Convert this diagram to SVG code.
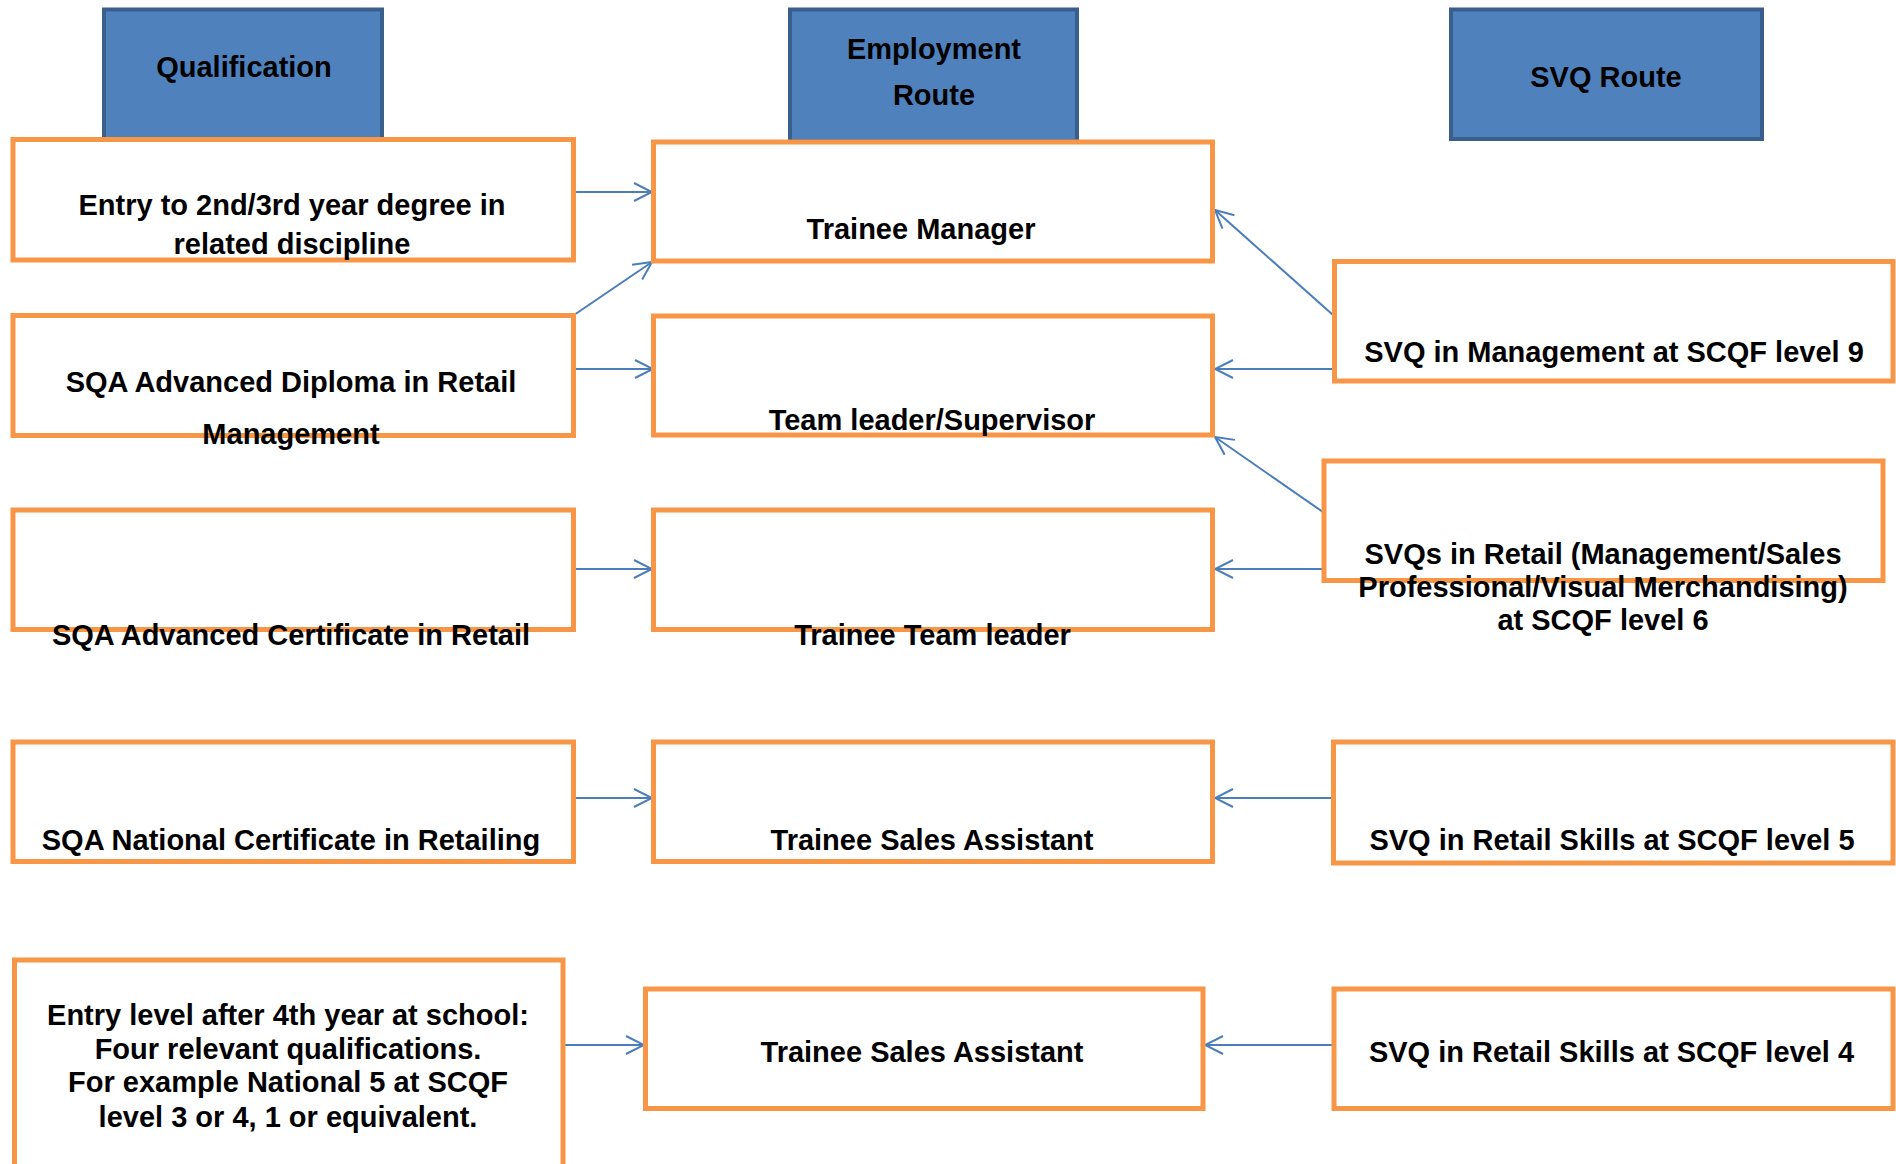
<svg xmlns="http://www.w3.org/2000/svg" width="1896" height="1164" viewBox="0 0 1896 1164">
<style>
.hdr{fill:#4F81BD;stroke:#3A5F8C;stroke-width:4}
.box{fill:#FFFFFF;stroke:#F79646;stroke-width:5}
.t{font-family:"Liberation Sans",Arial,sans-serif;font-weight:bold;font-size:29px;fill:#000;text-anchor:middle}
.c{stroke:#4A7EBB;stroke-width:2;fill:none}
</style>
<defs>
<marker id="ah" viewBox="0 0 20 20" refX="19" refY="10" markerWidth="20" markerHeight="20" markerUnits="userSpaceOnUse" orient="auto">
<path d="M1,1 L19,10 L1,19" fill="none" stroke="#4A7EBB" stroke-width="2"/>
</marker>
</defs>
<rect width="1896" height="1164" fill="#FFFFFF"/>
<g id="hdr-qualification"><rect class="hdr" x="104" y="9.5" width="278" height="132"/><text class="t" x="244" y="77">Qualification</text></g>
<g id="hdr-employment"><rect class="hdr" x="790" y="9.5" width="287" height="132"/><text class="t" x="934" y="59">Employment</text><text class="t" x="934" y="105">Route</text></g>
<g id="hdr-svq"><rect class="hdr" x="1451" y="9.5" width="311" height="129.5"/><text class="t" x="1606" y="87">SVQ Route</text></g>
<g id="connectors">
<line class="c" x1="574" y1="192" x2="652" y2="192" marker-end="url(#ah)"/>
<line class="c" x1="574" y1="315" x2="652" y2="262" marker-end="url(#ah)"/>
<line class="c" x1="574" y1="369" x2="653" y2="369" marker-end="url(#ah)"/>
<line class="c" x1="574" y1="569" x2="652" y2="569" marker-end="url(#ah)"/>
<line class="c" x1="574" y1="798" x2="652" y2="798" marker-end="url(#ah)"/>
<line class="c" x1="564" y1="1045" x2="644" y2="1045" marker-end="url(#ah)"/>
<line class="c" x1="1333" y1="315" x2="1215" y2="210" marker-end="url(#ah)"/>
<line class="c" x1="1333" y1="369" x2="1215" y2="369" marker-end="url(#ah)"/>
<line class="c" x1="1333" y1="519" x2="1215" y2="437" marker-end="url(#ah)"/>
<line class="c" x1="1333" y1="569" x2="1215" y2="569" marker-end="url(#ah)"/>
<line class="c" x1="1333" y1="798" x2="1215" y2="798" marker-end="url(#ah)"/>
<line class="c" x1="1332" y1="1045" x2="1205" y2="1045" marker-end="url(#ah)"/>
</g>
<g id="q1"><rect class="box" x="13" y="139.5" width="560.5" height="120.5"/><text class="t" x="292" y="215">Entry to 2nd/3rd year degree in</text><text class="t" x="292" y="254">related discipline</text></g>
<g id="q2"><rect class="box" x="13" y="315.5" width="560.5" height="120"/><text class="t" x="291" y="392">SQA Advanced Diploma in Retail</text><text class="t" x="291" y="444">Management</text></g>
<g id="q3"><rect class="box" x="13" y="510" width="560.5" height="119.5"/><text class="t" x="291" y="645">SQA Advanced Certificate in Retail</text></g>
<g id="q4"><rect class="box" x="13" y="742" width="560.5" height="119.5"/><text class="t" x="291" y="850">SQA National Certificate in Retailing</text></g>
<g id="q5"><rect class="box" x="14.5" y="960" width="548.5" height="215"/><text class="t" x="288" y="1025">Entry level after 4th year at school:</text><text class="t" x="288" y="1059">Four relevant qualifications.</text><text class="t" x="288" y="1092">For example National 5 at SCQF</text><text class="t" x="288" y="1127">level 3 or 4, 1 or equivalent.</text></g>
<g id="e1"><rect class="box" x="653.5" y="142" width="559" height="119"/><text class="t" x="921" y="239">Trainee Manager</text></g>
<g id="e2"><rect class="box" x="653.5" y="316" width="559" height="119"/><text class="t" x="932" y="430">Team leader/Supervisor</text></g>
<g id="e3"><rect class="box" x="653.5" y="510" width="559" height="119.5"/><text class="t" x="932.5" y="645">Trainee Team leader</text></g>
<g id="e4"><rect class="box" x="653.5" y="742" width="559" height="119.5"/><text class="t" x="932" y="850">Trainee Sales Assistant</text></g>
<g id="e5"><rect class="box" x="645.5" y="989" width="557.5" height="119.5"/><text class="t" x="922" y="1062">Trainee Sales Assistant</text></g>
<g id="s1"><rect class="box" x="1334.5" y="261.5" width="558.5" height="119.5"/><text class="t" x="1614" y="362">SVQ in Management at SCQF level 9</text></g>
<g id="s2"><rect class="box" x="1324" y="461" width="559" height="119.5"/><text class="t" x="1603" y="564">SVQs in Retail (Management/Sales</text><text class="t" x="1603" y="597">Professional/Visual Merchandising)</text><text class="t" x="1603" y="630">at SCQF level 6</text></g>
<g id="s3"><rect class="box" x="1333.5" y="742" width="559.5" height="121"/><text class="t" x="1612" y="850">SVQ in Retail Skills at SCQF level 5</text></g>
<g id="s4"><rect class="box" x="1334" y="989" width="559" height="119.5"/><text class="t" x="1611.5" y="1062">SVQ in Retail Skills at SCQF level 4</text></g>
</svg>
